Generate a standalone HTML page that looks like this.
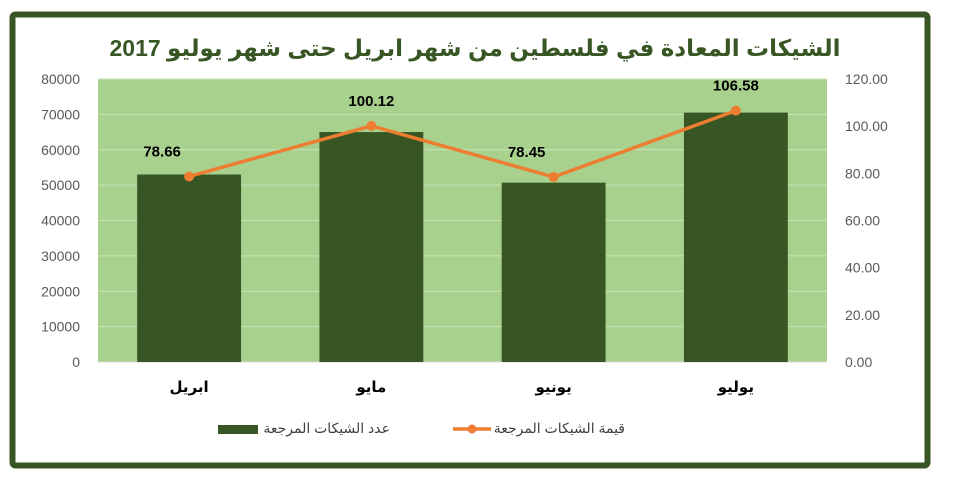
<!DOCTYPE html>
<html><head><meta charset="utf-8"><style>
body{margin:0;background:#fff;width:955px;height:478px;overflow:hidden}
svg text{font-family:"Liberation Sans","DejaVu Sans",sans-serif}
</style></head><body>
<svg id="c" width="955" height="478" xmlns="http://www.w3.org/2000/svg">
<rect x="12.5" y="14.5" width="915" height="451" rx="3" fill="#fff" stroke="#375623" stroke-width="6"/>
<text x="475" y="56" text-anchor="middle" font-size="23" font-weight="bold" fill="#375623">الشيكات المعادة في فلسطين من شهر ابريل حتى شهر يوليو 2017</text>
<rect x="98" y="79" width="729" height="283" fill="#a9d18e"/>
<g id="grid"></g><g id="bars"></g><g id="line"></g><g id="labels"></g>
<g>
<rect x="218" y="425" width="40" height="9" fill="#375623"/>
<text x="390" y="433" text-anchor="end" font-size="14" fill="#404040">عدد الشيكات المرجعة</text>
<line x1="453" y1="429" x2="491" y2="429" stroke="#ed7d31" stroke-width="3.5"/>
<circle cx="472" cy="429" r="4.5" fill="#ed7d31"/>
<text x="625" y="433" text-anchor="end" font-size="14" fill="#404040">قيمة الشيكات المرجعة</text>
</g>
</svg>
<script>
const categories=["ابريل","مايو","يونيو","يوليو"];
const counts=[53000,65000,50700,70500];
const values=[78.66,100.12,78.45,106.58];
const leftTicks=[0,10000,20000,30000,40000,50000,60000,70000,80000];
const rightTicks=["0.00","20.00","40.00","60.00","80.00","100.00","120.00"];
const NS="http://www.w3.org/2000/svg";
const X0=98,W=729,Y0=362,H=283;
const yL=v=>Y0-v/80000*H, yR=v=>Y0-v/120*H;
const band=W/categories.length, xc=i=>X0+band*(i+0.5);
function mk(t,a,p){const e=document.createElementNS(NS,t);for(const k in a)e.setAttribute(k,a[k]);p.appendChild(e);return e;}
const g=document.getElementById('grid'),b=document.getElementById('bars'),l=document.getElementById('line'),lb=document.getElementById('labels');
leftTicks.forEach(v=>{
 const ln=mk('line',{x1:X0,x2:X0+W,y1:yL(v),y2:yL(v),stroke:v===0?'#d9d9d9':'#c9e3b8','stroke-width':1},g);
 
 
 const t=mk('text',{x:80,y:yL(v)+5,'text-anchor':'end','font-size':14,fill:'#595959'},g);t.textContent=v;
 
 
});
rightTicks.forEach(s=>{
 const t=mk('text',{x:845,y:yR(parseFloat(s))+5,'font-size':14,fill:'#595959'},g);t.textContent=s;
 
 
});
const bw=band*0.57;
categories.forEach((c,i)=>{
 const r=mk('rect',{x:xc(i)-bw/2,y:yL(counts[i]),width:bw,height:Y0-yL(counts[i]),fill:'#375623'},b);
 
 
 const t=mk('text',{x:xc(i),y:392,'text-anchor':'middle','font-size':15,'font-weight':'bold',fill:'#000'},lb);t.textContent=c;
 
 
});
const pts=values.map((v,i)=>xc(i)+','+yR(v)).join(' ');
const pl=mk('polyline',{points:pts,fill:'none',stroke:'#ed7d31','stroke-width':3.5,'stroke-linejoin':'round'},l);


values.forEach((v,i)=>{
 const c=mk('circle',{cx:xc(i),cy:yR(v),r:5,fill:'#ed7d31'},l);
 
 
 const t=mk('text',{x:xc(i)-(i%2===0?27:0),y:yR(v)-20,'text-anchor':'middle','font-size':15,'font-weight':'bold',fill:'#000'},lb);t.textContent=v.toFixed(2);
 
 
});
</script>
</body></html>
